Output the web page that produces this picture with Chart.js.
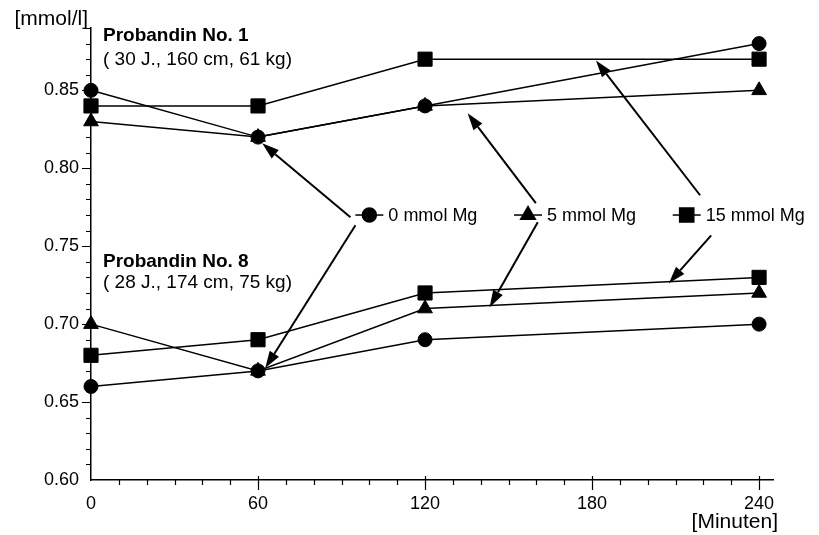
<!DOCTYPE html>
<html lang="de">
<head>
  <meta charset="UTF-8">
  <title>Mg-Konzentration Probandinnen</title>
  <script src="https://cdn.jsdelivr.net/npm/chart.js"></script>
  <style>
    html, body {
      margin: 0;
      padding: 0;
      background: #ffffff;
    }
    #wrap {
      width: 819px;
      height: 535px;
    }
  </style>
</head>
<body>
  <div id="wrap">
    <canvas id="mgChart" width="819" height="535"></canvas>
  </div>

  <script>
    // Data
    const times = [0, 60, 120, 240];
    const p1Mg0 = [0.85, 0.82, 0.84, 0.88];
    const p1Mg5 = [0.83, 0.82, 0.84, 0.85];
    const p1Mg15 = [0.84, 0.84, 0.87, 0.87];
    const p8Mg0 = [0.66, 0.67, 0.69, 0.70];
    const p8Mg5 = [0.70, 0.67, 0.71, 0.72];
    const p8Mg15 = [0.68, 0.69, 0.72, 0.73];

    const doseLabels = ['0 mmol Mg', '5 mmol Mg', '15 mmol Mg'];
    const xTicks = [0, 60, 120, 180, 240];
    const yTicks = [0.60, 0.65, 0.70, 0.75, 0.80, 0.85];
    const subjectTitles = ['Probandin No. 1', 'Probandin No. 8'];
    const subjectInfo = ['( 30 J., 160 cm, 61 kg)', '( 28 J., 174 cm, 75 kg)'];
    const yUnit = '[mmol/l]';
    const xUnit = '[Minuten]';

    const FONT = '"Liberation Sans", Arial, sans-serif';

    const toPoints = vals => vals.map((v, i) => ({ x: times[i], y: v }));

    const styles = {
      circle: { pointStyle: 'circle', pointRadius: 7 },
      triangle: { pointStyle: 'triangle', pointRadius: 8.5 },
      rect: { pointStyle: 'rect', pointRadius: 10 }
    };

    function makeSet(label, vals, style) {
      return {
        label: label,
        data: toPoints(vals),
        borderColor: '#000',
        backgroundColor: '#000',
        borderWidth: 1.5,
        pointBackgroundColor: '#000',
        pointBorderColor: '#000',
        pointBorderWidth: 1,
        pointStyle: styles[style].pointStyle,
        pointRadius: styles[style].pointRadius,
        tension: 0,
        fill: false,
        clip: false
      };
    }

    // annotation placement, in data units (minutes, mmol/l)
    const legendPos = [
      { x: 100, y: 0.77, style: 'circle' },
      { x: 157, y: 0.77, style: 'triangle' },
      { x: 214, y: 0.77, style: 'rect' }
    ];
    const arrowPos = [
      { from: [93.2, 0.7686], to: [61.5, 0.816] },
      { from: [95.0, 0.7635], to: [62.6, 0.6718] },
      { from: [159.8, 0.7776], to: [135.3, 0.8353] },
      { from: [160.5, 0.7654], to: [143.2, 0.7109] },
      { from: [218.8, 0.7827], to: [181.4, 0.8692] },
      { from: [222.8, 0.757], to: [207.6, 0.7263] }
    ];
    const textPos = [
      { x: 4.3, y: 0.8814, bold: true, text: subjectTitles[0] },
      { x: 4.3, y: 0.8665, bold: false, text: subjectInfo[0] },
      { x: 4.3, y: 0.7365, bold: true, text: subjectTitles[1] },
      { x: 4.3, y: 0.7235, bold: false, text: subjectInfo[1] }
    ];

    function drawArrow(ctx, x1, y1, x2, y2) {
      const ang = Math.atan2(y2 - y1, x2 - x1);
      const len = 17, half = 5.5;
      const bx = x2 - Math.cos(ang) * len;
      const by = y2 - Math.sin(ang) * len;
      ctx.beginPath();
      ctx.moveTo(x1, y1);
      ctx.lineTo(bx, by);
      ctx.stroke();
      ctx.beginPath();
      ctx.moveTo(x2, y2);
      ctx.lineTo(bx + Math.sin(ang) * half, by - Math.cos(ang) * half);
      ctx.lineTo(bx - Math.sin(ang) * half, by + Math.cos(ang) * half);
      ctx.closePath();
      ctx.fill();
    }

    const decorPlugin = {
      id: 'decor',
      afterDraw(chart) {
        const ctx = chart.ctx;
        const xs = chart.scales.x;
        const ys = chart.scales.y;
        const area = chart.chartArea;
        ctx.save();
        ctx.strokeStyle = '#000';
        ctx.fillStyle = '#000';

        // axis ticks, major and minor
        ctx.lineWidth = 1.2;
        ctx.beginPath();
        for (let i = 1; i <= 29; i++) {
          const v = 0.60 + i * 0.01;
          const py = Math.round(ys.getPixelForValue(v)) + 0.5;
          const major = i % 5 === 0;
          ctx.moveTo(area.left, py);
          ctx.lineTo(area.left - (major ? 9 : 5), py);
        }
        for (let m = 10; m <= 240; m += 10) {
          const px = Math.round(xs.getPixelForValue(m)) + 0.5;
          const major = m % 60 === 0;
          ctx.moveTo(px, area.bottom - (major ? 4 : 0));
          ctx.lineTo(px, area.bottom + (major ? 10 : 5));
        }
        ctx.stroke();

        // axis units
        ctx.font = '21px ' + FONT;
        ctx.textBaseline = 'alphabetic';
        ctx.textAlign = 'right';
        ctx.fillText(yUnit, area.left - 3, 25);
        ctx.fillText(xUnit, area.right + 5, 528);

        // subject captions
        ctx.textAlign = 'left';
        textPos.forEach(t => {
          ctx.font = (t.bold ? 'bold ' : '') + '19px ' + FONT;
          ctx.fillText(t.text, xs.getPixelForValue(t.x), ys.getPixelForValue(t.y));
        });

        // in-plot legend
        ctx.textBaseline = 'middle';
        ctx.font = '18px ' + FONT;
        legendPos.forEach((l, i) => {
          const cx = xs.getPixelForValue(l.x);
          const cy = ys.getPixelForValue(l.y);
          ctx.lineWidth = 1.5;
          ctx.beginPath();
          ctx.moveTo(cx - 14, cy);
          ctx.lineTo(cx + 14, cy);
          ctx.stroke();
          Chart.helpers.drawPoint(ctx, {
            pointStyle: styles[l.style].pointStyle,
            radius: styles[l.style].pointRadius,
            rotation: 0,
            borderWidth: 1
          }, cx, cy);
          ctx.fillText(doseLabels[i], cx + 19, cy + 1);
        });

        // arrows from legend to curves
        ctx.lineWidth = 2;
        arrowPos.forEach(a => {
          drawArrow(ctx,
            xs.getPixelForValue(a.from[0]), ys.getPixelForValue(a.from[1]),
            xs.getPixelForValue(a.to[0]), ys.getPixelForValue(a.to[1]));
        });

        ctx.restore();
      }
    };

    const ctx = document.getElementById('mgChart').getContext('2d');
    const mgChart = new Chart(ctx, {
      type: 'line',
      data: {
        datasets: [
          makeSet('P1 ' + doseLabels[2], p1Mg15, 'rect'),
          makeSet('P8 ' + doseLabels[2], p8Mg15, 'rect'),
          makeSet('P1 ' + doseLabels[0], p1Mg0, 'circle'),
          makeSet('P8 ' + doseLabels[0], p8Mg0, 'circle'),
          makeSet('P1 ' + doseLabels[1], p1Mg5, 'triangle'),
          makeSet('P8 ' + doseLabels[1], p8Mg5, 'triangle')
        ]
      },
      options: {
        responsive: false,
        animation: false,
        events: [],
        layout: { padding: { top: 28, right: 46, left: 0, bottom: 0 } },
        plugins: {
          legend: { display: false },
          tooltip: { enabled: false }
        },
        scales: {
          x: {
            type: 'linear',
            min: 0,
            max: 245,
            afterBuildTicks: scale => { scale.ticks = xTicks.map(v => ({ value: v })); },
            afterFit: scale => { scale.height = 55; },
            grid: { display: true, drawOnChartArea: false, drawTicks: true, tickLength: 9, color: 'rgba(0,0,0,0)', tickColor: 'rgba(0,0,0,0)' },
            border: { display: true, color: '#000', width: 1.5 },
            ticks: {
              color: '#000',
              padding: 4,
              maxRotation: 0,
              autoSkip: false,
              font: { family: FONT, size: 18 },
              callback: v => String(v)
            }
          },
          y: {
            type: 'linear',
            min: 0.60,
            max: 0.89,
            afterBuildTicks: scale => { scale.ticks = yTicks.map(v => ({ value: v })); },
            afterFit: scale => { scale.width = 91; },
            grid: { display: true, drawOnChartArea: false, drawTicks: true, tickLength: 9, color: 'rgba(0,0,0,0)', tickColor: 'rgba(0,0,0,0)' },
            border: { display: true, color: '#000', width: 1.5 },
            ticks: {
              color: '#000',
              padding: 3,
              autoSkip: false,
              font: { family: FONT, size: 18 },
              callback: v => Number(v).toFixed(2)
            }
          }
        }
      },
      plugins: [decorPlugin]
    });
  </script>
</body>
</html>
